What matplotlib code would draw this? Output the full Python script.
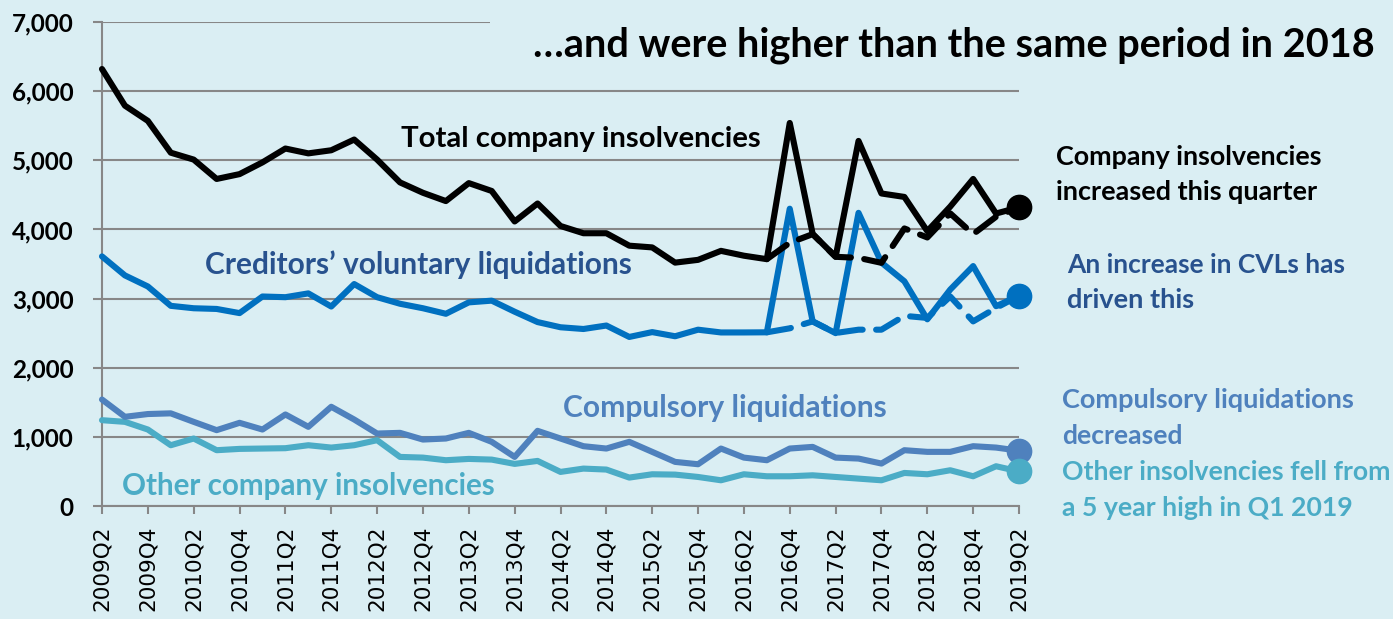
import numpy as np
import matplotlib
matplotlib.use("Agg")
import matplotlib.pyplot as plt

# ---------------- data ----------------
quarters = ["2009Q2", "2009Q3", "2009Q4", "2010Q1", "2010Q2", "2010Q3", "2010Q4", "2011Q1",
            "2011Q2", "2011Q3", "2011Q4", "2012Q1", "2012Q2", "2012Q3", "2012Q4", "2013Q1",
            "2013Q2", "2013Q3", "2013Q4", "2014Q1", "2014Q2", "2014Q3", "2014Q4", "2015Q1",
            "2015Q2", "2015Q3", "2015Q4", "2016Q1", "2016Q2", "2016Q3", "2016Q4", "2017Q1",
            "2017Q2", "2017Q3", "2017Q4", "2018Q1", "2018Q2", "2018Q3", "2018Q4", "2019Q1",
            "2019Q2"]

total = [6320, 5790, 5570, 5110, 5010, 4730, 4800, 4970, 5170, 5100, 5145, 5300, 5010, 4680,
         4530, 4410, 4670, 4556, 4115, 4375, 4050, 3945, 3945, 3765, 3740, 3520, 3560, 3690,
         3620, 3570, 5540, 3935, 3605, 5280, 4520, 4470, 3975, 4330, 4730, 4230, 4320]

cvl = [3610, 3335, 3175, 2895, 2860, 2850, 2790, 3030, 3020, 3075, 2885, 3210, 3020, 2925,
       2860, 2780, 2945, 2970, 2810, 2660, 2585, 2560, 2610, 2445, 2515, 2455, 2550, 2510,
       2510, 2512, 4300, 2670, 2500, 4240, 3520, 3250, 2700, 3130, 3470, 2890, 3040]

compulsory = [1540, 1290, 1330, 1340, 1217, 1097, 1203, 1106, 1324, 1145, 1435, 1251, 1048,
              1058, 961, 976, 1058, 928, 710, 1087, 976, 865, 831, 928, 783, 638, 604, 831,
              700, 662, 831, 855, 700, 686, 614, 807, 783, 783, 865, 845, 800]

other = [1241, 1217, 1106, 879, 976, 807, 826, 831, 836, 879, 845, 879, 952, 710, 700, 662,
         681, 671, 609, 652, 493, 541, 527, 411, 459, 454, 420, 372, 459, 430, 430, 444, 420,
         396, 372, 478, 459, 517, 430, 575, 500]

# comparison (dashed) series, 2016Q3 - 2019Q2
dash_quarters = quarters[29:]
total_dashed = [3570, 3807, 3932, 3604, 3589, 3517, 4014, 3884, 4232, 3932, 4184, 4320]
cvl_dashed = [2512, 2570, 2670, 2502, 2550, 2550, 2750, 2720, 3030, 2670, 2865, 3040]

yticks = [0, 1000, 2000, 3000, 4000, 5000, 6000, 7000]

title = "\u2026and were higher than the same period in 2018"

# ---------------- styling ----------------
W, H = 1393, 619
BG = "#DAEEF3"
GRID = "#878787"
C_TOTAL = "#000000"
C_CVL = "#0070C0"
C_COMP = "#4F81BD"
C_OTHER = "#4BACC6"
C_CVL_TXT = "#28528E"
FONT = ["Lato", "DejaVu Sans"]

fig = plt.figure(figsize=(W / 100, H / 100), dpi=100, facecolor=BG)
ax = fig.add_axes([102 / W, 1 - 506 / H, (1019 - 102) / W, (506 - 22) / H])
ax.set_facecolor(BG)

x = np.arange(len(quarters))
xd = np.arange(29, 29 + len(dash_quarters))
LW = 4.4

common = dict(lw=LW, solid_joinstyle="round", solid_capstyle="round", clip_on=False)
ax.plot(x, other, color=C_OTHER, zorder=3, **common)
ax.plot(x, compulsory, color=C_COMP, zorder=4, **common)
ax.plot(x, cvl, color=C_CVL, zorder=5, **common)
ax.plot(x, total, color=C_TOTAL, zorder=6, **common)
ax.plot(xd, cvl_dashed, color=C_CVL, lw=LW, dashes=(4, 2.2), dash_capstyle="round",
        zorder=5.5, clip_on=False)
ax.plot(xd, total_dashed, color=C_TOTAL, lw=LW, dashes=(4, 2.2), dash_capstyle="round",
        zorder=6.5, clip_on=False)

MS = 17.5
for series, col in [(total, C_TOTAL), (cvl, C_CVL), (compulsory, C_COMP), (other, C_OTHER)]:
    ax.plot([x[-1]], [series[-1]], "o", color=col, ms=MS, mec=col, zorder=8, clip_on=False)

ax.set_xlim(0, len(quarters) - 1)
ax.set_ylim(0, 7000)
ax.set_yticks(yticks)
ax.set_yticklabels([f"{v:,}" for v in yticks], fontsize=17.5, fontweight="bold",
                   family=FONT)
ax.set_xticks(x[::2])
ax.set_xticklabels(quarters[::2], rotation=90, fontsize=15.5, family="DejaVu Sans")
ax.tick_params(axis="y", length=6.5, width=1.5, color=GRID, pad=14)
ax.tick_params(axis="x", length=6, width=1.5, color=GRID, pad=8)
ax.grid(axis="y", color=GRID, lw=1.5, zorder=1)
ax.set_axisbelow(True)
for s in ["top", "right"]:
    ax.spines[s].set_visible(False)
for s in ["left", "bottom"]:
    ax.spines[s].set_color(GRID)
    ax.spines[s].set_linewidth(1.5)

fig.canvas.draw()
renderer = fig.canvas.get_renderer()


def fit_text(s, x0, x1, base_y, color, fs0=18, **kw):
    t = fig.text(x0 / W, 1 - base_y / H, s, fontsize=fs0, fontweight="bold", color=color,
                 ha="left", va="baseline", family=FONT, **kw)
    w = t.get_window_extent(renderer).width
    t.set_fontsize(fs0 * (x1 - x0) / w)
    return t


# title with background box that hides the top gridline
fit_text(title, 533, 1377, 56, "#000000", fs0=26,
         bbox=dict(boxstyle="square,pad=0.3", fc=BG, ec="none"), zorder=10)
tb = fig.texts[-1]
tb.get_bbox_patch().set_boxstyle("square", pad=0.0)
# cover gridline from x=490 rightwards
fig.patches.append(plt.Rectangle((490 / W, 1 - 30 / H), 1 - 490 / W, 16 / H,
                                 transform=fig.transFigure, fc=BG, ec="none", zorder=9))

# in-plot labels
fit_text("Total company insolvencies", 401, 762, 147, C_TOTAL)
fit_text("Creditors\u2019 voluntary liquidations", 205, 633, 274, C_CVL_TXT)
fit_text("Compulsory liquidations", 563, 887, 416.5, C_COMP)
fit_text("Other company insolvencies", 122, 496, 495, C_OTHER)

# right-hand annotations
fit_text("Company insolvencies", 1056, 1323, 165, C_TOTAL, fs0=16)
fit_text("increased this quarter", 1056, 1319, 200.5, C_TOTAL, fs0=16)
fit_text("An increase in CVLs has", 1067, 1347, 273.5, C_CVL_TXT, fs0=16)
fit_text("driven this", 1067, 1195, 307.5, C_CVL_TXT, fs0=16)
fit_text("Compulsory liquidations", 1062, 1355, 408.5, C_COMP, fs0=16)
fit_text("decreased", 1062, 1183, 443.5, C_COMP, fs0=16)
t_last = fit_text("a 5 year high in Q1 2019", 1062, 1353, 516.5, C_OTHER, fs0=16)
fig.text(1062 / W, 1 - 480 / H, "Other insolvencies fell from", fontsize=t_last.get_fontsize(),
         fontweight="bold", color=C_OTHER, ha="left", va="baseline", family=FONT)

fig.savefig("out.png", dpi=100, facecolor=BG)
